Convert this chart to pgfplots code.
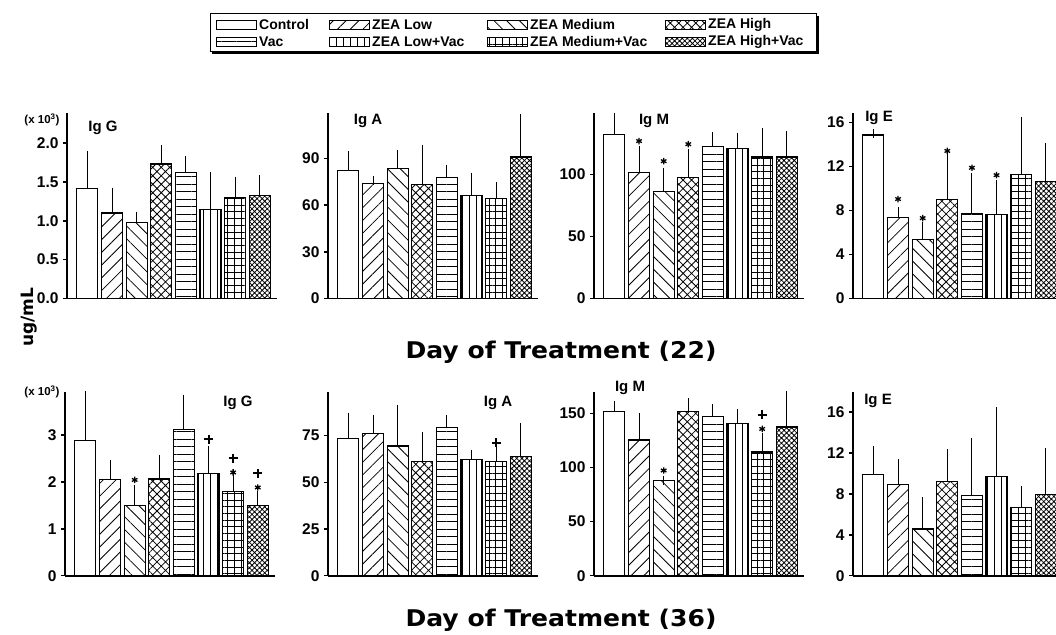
\documentclass[border=0pt]{standalone}
\usepackage{fontspec}
\setmainfont{Liberation Sans}
\newfontfamily\heavy{DejaVu Sans}
\usepackage{pgfplots}
\pgfplotsset{compat=1.18}
\usetikzlibrary{patterns.meta}

\tikzset{
 pCtrl/.style={fill=white},
 pLow/.style={pattern={Lines[angle=45,distance=9pt,line width=0.8pt]}},
 pMed/.style={pattern={Lines[angle=-45,distance=9pt,line width=0.8pt]}},
 pHigh/.style={pattern={Hatch[angle=45,distance=6pt,line width=0.8pt]}},
 pVac/.style={pattern={Lines[angle=0,distance=7.5pt,line width=0.8pt]}},
 pLowVac/.style={pattern={Lines[angle=90,distance=7pt,line width=0.8pt]}},
 pMedVac/.style={pattern={Hatch[angle=0,distance=6.7pt,line width=0.8pt]}},
 pHighVac/.style={pattern={Hatch[angle=45,distance=3.6pt,line width=0.8pt]}},
}

\pgfplotsset{
 panel/.style={
   scale only axis, width=210pt, anchor=south west,
   xmin=-0.83, xmax=7.7, ymin=0,
   axis x line=bottom, axis y line=left,
   x axis line style={-}, y axis line style={-},
   every outer x axis line/.append style={-},
   every outer y axis line/.append style={-},
   axis line style={line width=1.8pt, black},
   xtick=\empty,
   tick align=outside, major tick length=4pt,
   every tick/.style={black, line width=1.5pt},
   yticklabel style={font=\fontsize{15.5}{15.5}\selectfont\bfseries, xshift=-1pt},
   /pgf/number format/assume math mode=true,
   clip=false,
 },
 star/.style={only marks, mark=asterisk, mark size=3.2pt, line width=1.3pt, black},
 plusm/.style={only marks, mark=+, mark size=4.5pt, line width=2pt, black},
}

\newcommand\onebar[4]{\addplot[ybar, bar width=21pt, bar shift=0pt, draw=black, line width=1.1pt, #1,
   error bars/.cd, y dir=plus, y explicit, error bar style={line width=1pt,black},
   error mark options={mark size=4.5pt, line width=1pt, black}]
   coordinates {(#2,#3) +- (0,#4)};}

\newcommand\lab[1]{\fontsize{15}{15}\selectfont\bfseries #1}
\newcommand\legitem[4]{%
  \draw[line width=0.9pt, #1] (#2pt,#3pt-4.5pt) rectangle (#2pt+40pt,#3pt+4.5pt);
  \node[anchor=west, inner sep=0pt, font=\fontsize{14}{14}\selectfont\bfseries] at (#2pt+43pt,#3pt) {#4};}

\begin{document}
\begin{tikzpicture}[x=1pt,y=1pt]

% ---------- Day 22 ----------
\begin{axis}[panel, at={(67pt,335.5pt)}, height=185pt, ymax=2.38,
  ytick={0,0.5,1,1.5,2}, yticklabel style={/pgf/number format/.cd, fixed, precision=1, zerofill}]
\onebar{pCtrl}{0}{1.41}{0.43}
\onebar{pLow}{1}{1.10}{0.27}
\onebar{pMed}{2}{0.98}{0.08}
\onebar{pHigh}{3}{1.73}{0.19}
\onebar{pVac}{4}{1.62}{0.16}
\onebar{pLowVac}{5}{1.15}{0.42}
\onebar{pMedVac}{6}{1.30}{0.21}
\onebar{pHighVac}{7}{1.33}{0.20}
\end{axis}

\begin{axis}[panel, at={(328pt,335.5pt)}, height=185pt, ymax=119, ytick={0,30,60,90}]
\onebar{pCtrl}{0}{82.4}{9.5}
\onebar{pLow}{1}{73.8}{2.1}
\onebar{pMed}{2}{83.9}{8.6}
\onebar{pHigh}{3}{73.2}{22.9}
\onebar{pVac}{4}{78.1}{4.9}
\onebar{pLowVac}{5}{66.5}{11.6}
\onebar{pMedVac}{6}{64.5}{7.6}
\onebar{pHighVac}{7}{91.0}{24.7}
\end{axis}

\begin{axis}[panel, at={(594pt,335.5pt)}, height=185pt, ymax=149, ytick={0,50,100}]
\onebar{pCtrl}{0}{132.4}{13.6}
\onebar{pLow}{1}{101.6}{17.9}
\onebar{pMed}{2}{86.2}{15.4}
\onebar{pHigh}{3}{97.8}{19.2}
\onebar{pVac}{4}{122.1}{8.2}
\onebar{pLowVac}{5}{120.5}{9.5}
\onebar{pMedVac}{6}{114}{20}
\onebar{pHighVac}{7}{114}{17.6}
\addplot[star] coordinates {(1,126.8) (2,110.6) (3,124.3)};
\end{axis}

\begin{axis}[panel, at={(853pt,335.5pt)}, height=185pt, ymax=16.8, ytick={0,4,8,12,16}]
\onebar{pCtrl}{0}{14.85}{0.1}
\onebar{pLow}{1}{7.33}{0.61}
\onebar{pMed}{2}{5.36}{1.14}
\onebar{pHigh}{3}{9.03}{3.67}
\onebar{pVac}{4}{7.73}{3.23}
\onebar{pLowVac}{5}{7.64}{2.72}
\onebar{pMedVac}{6}{11.27}{4.78}
\onebar{pHighVac}{7}{10.6}{3.1}
\addplot[star] coordinates {(1,9.03) (2,7.3) (3,13.4) (4,11.87) (5,11.2)};
\end{axis}

% ---------- Day 36 ----------
\begin{axis}[panel, at={(65pt,58.3pt)}, height=184pt, ymax=3.92, ytick={0,1,2,3}]
\onebar{pCtrl}{0}{2.88}{0.95}
\onebar{pLow}{1}{2.04}{0.32}
\onebar{pMed}{2}{1.49}{0.34}
\onebar{pHigh}{3}{2.06}{0.42}
\onebar{pVac}{4}{3.12}{0.64}
\onebar{pLowVac}{5}{2.17}{0.50}
\onebar{pMedVac}{6}{1.79}{0.27}
\onebar{pHighVac}{7}{1.49}{0.21}
\addplot[star] coordinates {(2,2.04) (6,2.20) (7,1.88)};
\addplot[plusm] coordinates {(5,2.91) (6,2.50) (7,2.18)};
\end{axis}

\begin{axis}[panel, at={(328pt,58.3pt)}, height=184pt, ymax=98.6, ytick={0,25,50,75}]
\onebar{pCtrl}{0}{73.6}{11.4}
\onebar{pLow}{1}{76.1}{7.7}
\onebar{pMed}{2}{69.5}{19.3}
\onebar{pHigh}{3}{61.3}{13.5}
\onebar{pVac}{4}{79.6}{4.2}
\onebar{pLowVac}{5}{62.3}{2.9}
\onebar{pMedVac}{6}{61.3}{5.7}
\onebar{pHighVac}{7}{64.1}{15.4}
\addplot[plusm] coordinates {(6,71.2)};
\end{axis}

\begin{axis}[panel, at={(594pt,58.3pt)}, height=184pt, ymax=170, ytick={0,50,100,150}]
\onebar{pCtrl}{0}{151.3}{6.1}
\onebar{pLow}{1}{125.4}{20.3}
\onebar{pMed}{2}{88.3}{0}
\onebar{pHigh}{3}{151.3}{8.3}
\onebar{pVac}{4}{147}{7.3}
\onebar{pLowVac}{5}{140.7}{9.3}
\onebar{pMedVac}{6}{114.3}{13.8}
\onebar{pHighVac}{7}{137.4}{29.3}
\addplot[star] coordinates {(2,97.2) (6,135.6)};
\addplot[plusm] coordinates {(6,148.8)};
\end{axis}

\begin{axis}[panel, at={(853pt,58.3pt)}, height=184pt, ymax=18, ytick={0,4,8,12,16}]
\onebar{pCtrl}{0}{9.86}{2.38}
\onebar{pLow}{1}{8.88}{2.06}
\onebar{pMed}{2}{4.57}{2.65}
\onebar{pHigh}{3}{9.21}{2.71}
\onebar{pVac}{4}{7.81}{5.22}
\onebar{pLowVac}{5}{9.74}{6.32}
\onebar{pMedVac}{6}{6.66}{1.66}
\onebar{pHighVac}{7}{7.9}{4.15}
\end{axis}

% ---------- labels ----------
\node[font=\fontsize{11.5}{11.5}\selectfont\bfseries] at (42,514) {(x 10\textsuperscript{3})};
\node[font=\fontsize{11.5}{11.5}\selectfont\bfseries] at (42,242) {(x 10\textsuperscript{3})};
\node at (103,506) {\lab{Ig G}};
\node at (368,513) {\lab{Ig A}};
\node at (654,513) {\lab{Ig M}};
\node at (879,516) {\lab{Ig E}};
\node at (238,231) {\lab{Ig G}};
\node at (498,231) {\lab{Ig A}};
\node at (630,246) {\lab{Ig M}};
\node at (878,233) {\lab{Ig E}};

\node[xscale=1.09, font=\heavy\bfseries\fontsize{23}{23}\selectfont] at (561,282) {Day of Treatment (22)};
\node[xscale=1.09, font=\heavy\bfseries\fontsize{23}{23}\selectfont] at (561,14) {Day of Treatment (36)};
\node[rotate=90, font=\heavy\bfseries\fontsize{17}{17}\selectfont] at (29,317) {ug/mL};

% ---------- legend ----------
\fill[black] (212,580) rectangle (819,618);
\draw[line width=1pt, fill=white] (210,582) rectangle (816,620);
\legitem{pCtrl}{216}{609}{Control}
\legitem{pLow}{329}{609}{ZEA Low}
\legitem{pMed}{487}{609}{ZEA Medium}
\legitem{pHigh}{665}{609}{ZEA High}
\legitem{pVac}{216}{592}{Vac}
\legitem{pLowVac}{329}{592}{ZEA Low+Vac}
\legitem{pMedVac}{487}{592}{ZEA Medium+Vac}
\legitem{pHighVac}{665}{592}{ZEA High+Vac}

\pgfresetboundingbox
\path[use as bounding box] (0,0) rectangle (1056,634);
\end{tikzpicture}
\end{document}
